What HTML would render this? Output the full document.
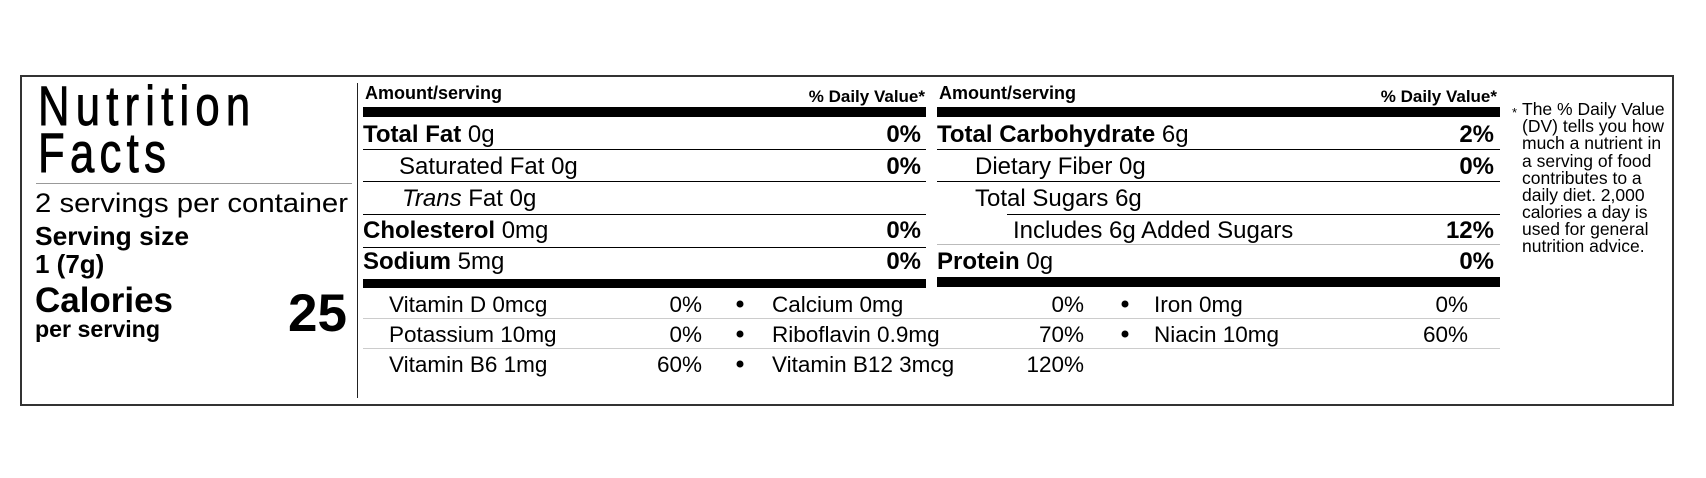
<!DOCTYPE html>
<html><head><meta charset="utf-8"><style>
html,body{margin:0;padding:0;background:#fff;}
svg{display:block;font-family:"Liberation Sans",Arial,sans-serif;}
.b{font-weight:bold}
</style></head><body>
<svg width="1706" height="478" viewBox="0 0 1706 478" xmlns="http://www.w3.org/2000/svg">
<rect x="21" y="76" width="1652" height="329" fill="none" stroke="#333" stroke-width="2"/>
<line x1="357.5" y1="83" x2="357.5" y2="398" stroke="#222" stroke-width="1"/>
<!-- left panel -->
<g transform="translate(38,0) scale(0.78,1)" stroke="#000" stroke-width="0.9">
<text x="0" y="125" font-size="56" textLength="272" lengthAdjust="spacing">Nutrition</text>
<text x="0" y="172" font-size="56" textLength="164" lengthAdjust="spacing">Facts</text>
</g>
<line x1="36" y1="183.5" x2="352" y2="183.5" stroke="#999" stroke-width="1"/>
<text x="35" y="212" font-size="26.5" textLength="313" lengthAdjust="spacingAndGlyphs">2 servings per container</text>
<text x="35" y="245" font-size="26" class="b" textLength="154" lengthAdjust="spacingAndGlyphs">Serving size</text>
<text x="35" y="273" font-size="26" class="b">1 (7g)</text>
<text x="35" y="312" font-size="35" class="b" textLength="138" lengthAdjust="spacingAndGlyphs">Calories</text>
<text x="35" y="337" font-size="23" class="b" textLength="125" lengthAdjust="spacingAndGlyphs">per serving</text>
<text x="347" y="331" font-size="53" class="b" text-anchor="end">25</text>
<!-- column 1 -->
<text x="365" y="99" font-size="18" class="b">Amount/serving</text>
<text x="925" y="102" font-size="17" class="b" text-anchor="end">% Daily Value*</text>
<rect x="363" y="107" width="563" height="10" fill="#000"/>
<text x="363" y="142" font-size="24" class="b">Total Fat <tspan font-weight="normal">0g</tspan></text>
<text x="921" y="142" font-size="24" class="b" text-anchor="end">0%</text>
<rect x="363" y="149" width="563" height="1" fill="#000"/>
<text x="399" y="174" font-size="24">Saturated Fat 0g</text>
<text x="921" y="174" font-size="24" class="b" text-anchor="end">0%</text>
<rect x="363" y="181" width="563" height="1" fill="#000"/>
<text x="402" y="206" font-size="24"><tspan font-style="italic">Trans</tspan> Fat 0g</text>
<rect x="363" y="214" width="563" height="1" fill="#000"/>
<text x="363" y="238" font-size="24" class="b">Cholesterol <tspan font-weight="normal">0mg</tspan></text>
<text x="921" y="238" font-size="24" class="b" text-anchor="end">0%</text>
<rect x="363" y="247" width="563" height="1" fill="#000"/>
<text x="363" y="269" font-size="24" class="b">Sodium <tspan font-weight="normal">5mg</tspan></text>
<text x="921" y="269" font-size="24" class="b" text-anchor="end">0%</text>
<rect x="363" y="279" width="563" height="9" fill="#000"/>
<!-- column 2 -->
<text x="939" y="99" font-size="18" class="b">Amount/serving</text>
<text x="1497" y="102" font-size="17" class="b" text-anchor="end">% Daily Value*</text>
<rect x="937" y="107" width="563" height="10" fill="#000"/>
<text x="937" y="142" font-size="24" class="b">Total Carbohydrate <tspan font-weight="normal">6g</tspan></text>
<text x="1494" y="142" font-size="24" class="b" text-anchor="end">2%</text>
<rect x="937" y="149" width="563" height="1" fill="#000"/>
<text x="975" y="174" font-size="24">Dietary Fiber 0g</text>
<text x="1494" y="174" font-size="24" class="b" text-anchor="end">0%</text>
<rect x="937" y="181" width="563" height="1" fill="#000"/>
<text x="975" y="206" font-size="24">Total Sugars 6g</text>
<rect x="1007" y="214" width="493" height="1" fill="#000"/>
<text x="1013" y="238" font-size="24">Includes 6g Added Sugars</text>
<text x="1494" y="238" font-size="24" class="b" text-anchor="end">12%</text>
<rect x="937" y="244" width="563" height="1" fill="#bbb"/>
<text x="937" y="269" font-size="24" class="b">Protein <tspan font-weight="normal">0g</tspan></text>
<text x="1494" y="269" font-size="24" class="b" text-anchor="end">0%</text>
<rect x="937" y="277" width="563" height="10" fill="#000"/>
<!-- vitamins -->
<rect x="363" y="318" width="1137" height="1" fill="#ccc"/>
<rect x="363" y="348" width="1137" height="1" fill="#ccc"/>
<g font-size="22.5">
<text x="389" y="312">Vitamin D 0mcg</text><text x="702" y="312" text-anchor="end">0%</text>
<circle cx="740" cy="304" r="3.5"/>
<text x="772" y="312">Calcium 0mg</text><text x="1084" y="312" text-anchor="end">0%</text>
<circle cx="1125" cy="304" r="3.5"/>
<text x="1154" y="312">Iron 0mg</text><text x="1468" y="312" text-anchor="end">0%</text>

<text x="389" y="342">Potassium 10mg</text><text x="702" y="342" text-anchor="end">0%</text>
<circle cx="740" cy="334" r="3.5"/>
<text x="772" y="342">Riboflavin 0.9mg</text><text x="1084" y="342" text-anchor="end">70%</text>
<circle cx="1125" cy="334" r="3.5"/>
<text x="1154" y="342">Niacin 10mg</text><text x="1468" y="342" text-anchor="end">60%</text>

<text x="389" y="372">Vitamin B6 1mg</text><text x="702" y="372" text-anchor="end">60%</text>
<circle cx="740" cy="364" r="3.5"/>
<text x="772" y="372">Vitamin B12 3mcg</text><text x="1084" y="372" text-anchor="end">120%</text>
</g>
<!-- footnote -->
<text x="1512" y="117" font-size="13">*</text>
<g font-size="17.5">
<text x="1522" y="115">The % Daily Value</text>
<text x="1522" y="132">(DV) tells you how</text>
<text x="1522" y="149">much a nutrient in</text>
<text x="1522" y="167">a serving of food</text>
<text x="1522" y="184">contributes to a</text>
<text x="1522" y="201">daily diet. 2,000</text>
<text x="1522" y="218">calories a day is</text>
<text x="1522" y="235">used for general</text>
<text x="1522" y="252">nutrition advice.</text>
</g>
</svg>
</body></html>
